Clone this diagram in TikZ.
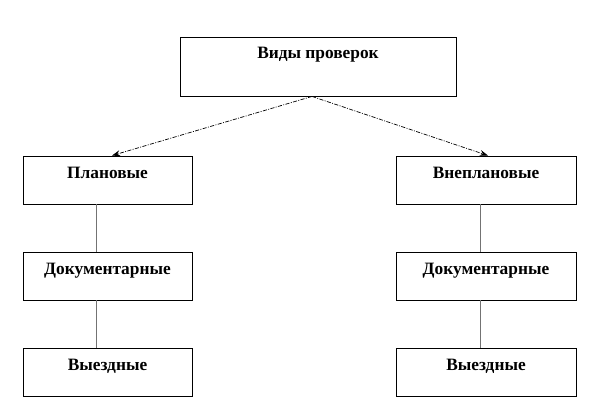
\documentclass[tikz,border=0pt]{standalone}
\usepackage{fontspec}
\setmainfont{Liberation Serif}
\usepackage{tikz}
\usetikzlibrary{arrows.meta,calc}
\begin{document}
\begin{tikzpicture}[x=0.03cm,y=-0.03cm,
  font=\fontsize{14.8}{17}\selectfont\bfseries,
  box/.style={draw=black,line width=0.75pt,fill=white,inner xsep=0pt,inner ysep=0pt,minimum width=#1,text height=0.67cm,text depth=0.77cm},
  box/.default=5.07cm,
  wire/.style={line width=0.6pt,dash pattern=on 3.5pt off 1.2pt on 0.8pt off 1.2pt},
  link/.style={draw=black!55,line width=0.8pt},
  >={Stealth[length=7pt,width=5pt]}]
\useasboundingbox (0,0) rectangle (600,408);
% ---- root
\node[box=8.28cm,text height=0.645cm,text depth=1.125cm] (kinds) at (318,66.5) {Виды проверок};
% ---- left column
\node[box] (plan) at (107.5,180) {Плановые};
\node[box] (pdoc) at (107.5,276) {Документарные};
\node[box] (pvis) at (107.5,372) {Выездные};
% ---- right column
\node[box=5.4cm] (unplan) at (486,180) {Внеплановые};
\node[box=5.4cm] (udoc) at (486,276) {Документарные};
\node[box=5.4cm] (uvis) at (486,372) {Выездные};
% ---- connectors
\draw[wire,->] ($(kinds.south)+(-6,0)$) -- ($(plan.north)+(4.5,0)$);
\draw[wire,->] ($(kinds.south)+(-6,0)$) -- ($(unplan.north)+(2,0)$);
\draw[link] ($(plan.south)+(-11.5,0)$) -- ($(pdoc.north)+(-11.5,0)$);
\draw[link] ($(pdoc.south)+(-11.5,0)$) -- ($(pvis.north)+(-11.5,0)$);
\draw[link] ($(unplan.south)+(-6,0)$) -- ($(udoc.north)+(-6,0)$);
\draw[link] ($(udoc.south)+(-6,0)$) -- ($(uvis.north)+(-6,0)$);
\end{tikzpicture}
\end{document}
